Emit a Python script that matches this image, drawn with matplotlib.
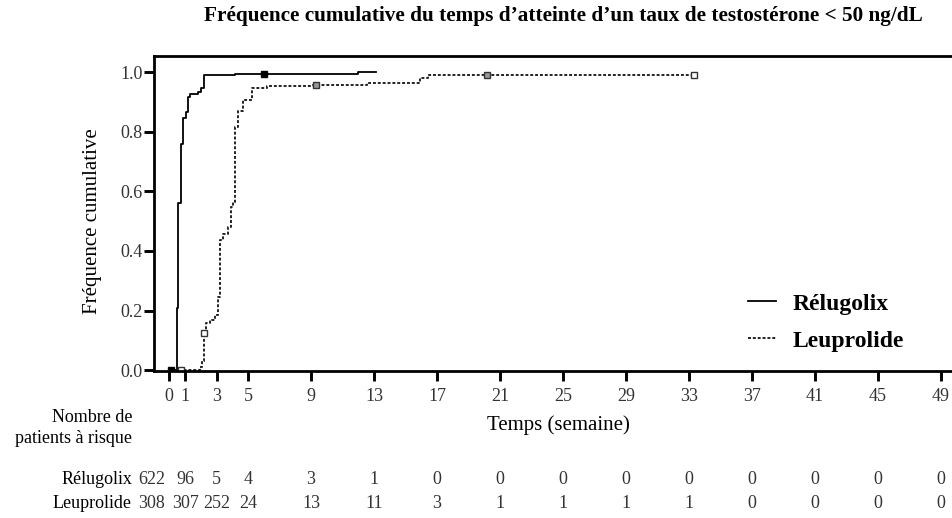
import matplotlib
matplotlib.use("Agg")
import matplotlib.pyplot as plt
import matplotlib.transforms as mtransforms
from matplotlib.lines import Line2D

plt.rcParams["font.family"] = ["Liberation Serif", "DejaVu Serif"]

# Courbes de fréquence cumulative (semaines, fréquence)
relugolix_t = [0, 0.47, 0.57, 0.72, 0.89, 1.06, 1.17, 1.31, 1.6, 1.84, 2.01, 2.2, 4.2, 12.0, 13.15]
relugolix_f = [0, 0.21, 0.56, 0.76, 0.845, 0.865, 0.915, 0.925, 0.928, 0.932, 0.946, 0.991, 0.995, 1.0, 1.0]

leuprolide_t = [0, 1.95, 2.05, 2.18, 2.33, 2.58, 2.9, 3.11, 3.22, 3.43, 3.75, 3.9, 4.06, 4.17,
                4.38, 4.7, 5.23, 6.18, 9.14, 12.53, 15.9, 16.4, 33.3]
leuprolide_f = [0, 0.01, 0.03, 0.123, 0.157, 0.168, 0.185, 0.246, 0.436, 0.458, 0.48, 0.547, 0.564,
                0.815, 0.87, 0.905, 0.946, 0.952, 0.958, 0.964, 0.981, 0.99, 0.99]

# Données censurées
rel_cens_t = [0.12, 6.0]
rel_cens_f = [0.0, 0.995]
leu_cens_t = [0.72, 2.18, 33.3]
leu_cens_f = [0.0, 0.123, 0.99]
leu_cens2_t = [9.3, 20.2]
leu_cens2_f = [0.958, 0.99]

# Nombre de patients à risque
semaines = [0, 1, 3, 5, 9, 13, 17, 21, 25, 29, 33, 37, 41, 45, 49]
risque_relugolix = [622, 96, 5, 4, 3, 1, 0, 0, 0, 0, 0, 0, 0, 0, 0]
risque_leuprolide = [308, 307, 252, 24, 13, 11, 3, 1, 1, 1, 1, 0, 0, 0, 0]

W, H = 952, 518
fig = plt.figure(figsize=(W / 100, H / 100), dpi=100)
ax = fig.add_axes([154 / W, 1 - 371 / H, (W - 154) / W, (371 - 56) / H])

ax.step(relugolix_t, relugolix_f, where="post", color="black", lw=1.3)
ax.step(leuprolide_t, leuprolide_f, where="post", color="#222222", lw=1.4,
        linestyle=(0, (1.5, 1.0)))
ax.plot(rel_cens_t, rel_cens_f, "s", ms=4, color="black", mec="black")
ax.plot(leu_cens_t, leu_cens_f, "s", ms=4, mfc="white", mec="#333333", mew=1)
ax.plot(leu_cens2_t, leu_cens2_f, "s", ms=4, mfc="#999999", mec="#333333", mew=1)

ax.set_xlim(-0.97, 49.7)
ax.set_ylim(-0.003, 1.054)
ax.set_xticks(semaines)
ax.set_xticklabels([str(s) for s in semaines])
ax.set_yticks([0, 0.2, 0.4, 0.6, 0.8, 1.0])
ax.set_yticklabels(["0.0", "0.2", "0.4", "0.6", "0.8", "1.0"])
ax.tick_params(axis="both", length=7, width=2.1, labelsize=13, colors="black",
               labelcolor="#333333")
ax.tick_params(axis="x", pad=5)
ax.tick_params(axis="y", pad=1)
for s in ["left", "bottom", "top"]:
    ax.spines[s].set_linewidth(2)
ax.spines["right"].set_visible(False)

fig.text(563.5 / W, 1 - 16 / H,
         "Fréquence cumulative du temps d’atteinte d’un taux de testostérone < 50 ng/dL",
         ha="center", va="center", fontsize=15.3, fontweight="bold")
fig.text(92 / W, 1 - 221 / H, "Fréquence cumulative", rotation=90,
         ha="center", va="center", fontsize=15)
fig.text(558 / W, 1 - 425 / H, "Temps (semaine)", ha="center", va="center", fontsize=15)
fig.text(132 / W, 1 - 428 / H, "Nombre de\npatients à risque", ha="right", va="center",
         fontsize=13, linespacing=1.35, multialignment="right")

# tableau des patients à risque
trans = mtransforms.blended_transform_factory(ax.transData, fig.transFigure)
for i, s in enumerate(semaines):
    x = s if i > 0 else -1.1
    ax.text(x, 1 - 480 / H, str(risque_relugolix[i]), transform=trans, ha="center",
            va="center", fontsize=13, color="#333333", clip_on=False)
    ax.text(x, 1 - 503 / H, str(risque_leuprolide[i]), transform=trans, ha="center",
            va="center", fontsize=13, color="#333333", clip_on=False)
fig.text(132 / W, 1 - 480 / H, "Rélugolix", ha="right", va="center", fontsize=13)
fig.text(132 / W, 1 - 503 / H, "Leuprolide", ha="right", va="center", fontsize=13)

handles = [Line2D([], [], color="black", lw=1.3),
           Line2D([], [], color="#222222", lw=1.4, linestyle=(0, (1.5, 1.0)))]
ax.legend(handles, ["Rélugolix", "Leuprolide"], loc="upper left",
          bbox_to_anchor=(748 / W, 1 - 293 / H), bbox_transform=fig.transFigure,
          frameon=False, borderpad=0, borderaxespad=0, handlelength=1.2,
          handletextpad=0.7, labelspacing=0.66,
          prop={"family": "Liberation Serif", "weight": "bold", "size": 17})

fig.savefig("out.png", dpi=100)
